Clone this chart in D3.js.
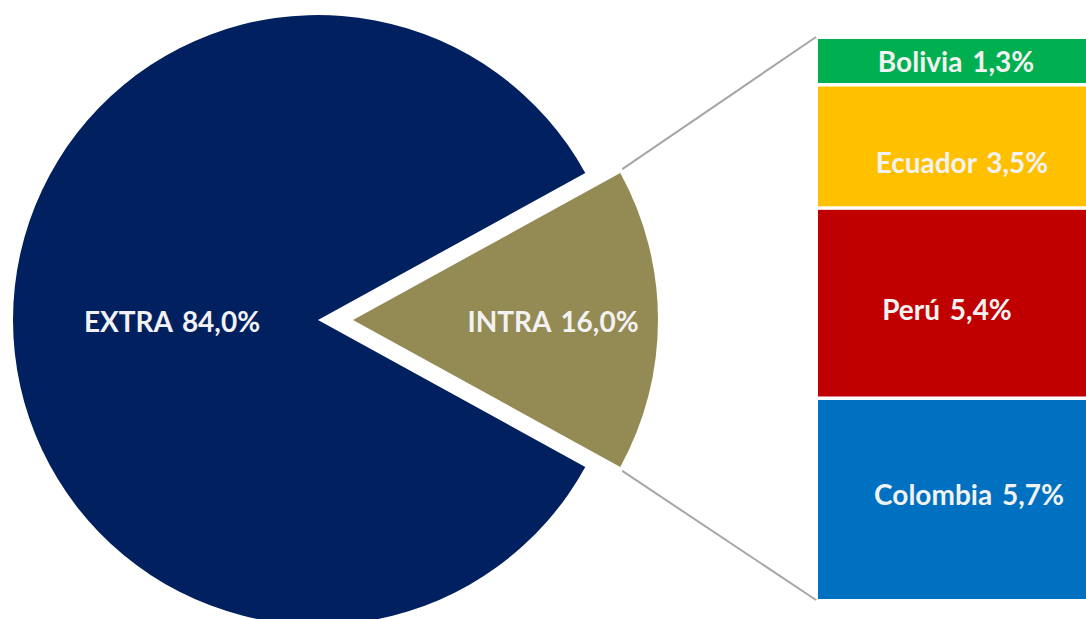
<!DOCTYPE html>
<html>
<head>
<meta charset="utf-8">
<script src="https://cdn.jsdelivr.net/npm/d3@7"></script>
<style>
  html, body { margin: 0; padding: 0; background: #fff; }
  text { font-family: Lato, "Open Sans", sans-serif; font-weight: bold; fill: #f2f2f2; word-spacing: 3px; }
</style>
</head>
<body>
<svg id="chart" width="1086" height="619"></svg>
<script>
// pie: intra vs extra
const pieNames = ['INTRA', 'EXTRA'];
const pieValues = [16.0, 84.0];
const pieColors = ['#948a54', '#002060'];

// breakdown of intra
const countries = ['Bolivia', 'Ecuador', 'Perú', 'Colombia'];
const countryValues = [1.3, 3.5, 5.4, 5.7];
const countryColors = ['#00b050', '#ffc000', '#c00000', '#0070c0'];

const fmt = (v) => d3.format('.1f')(v).replace('.', ',') + '%';

const svg = d3.select('#chart');
const radius = 305;
const cx = 318, cy = 320;
const explode = 35;
const fontSize = 28;

const pie = d3.pie()
    .sort(null)
    .startAngle(Math.PI / 2 - Math.PI * pieValues[0] / 100)
    .endAngle(Math.PI / 2 - Math.PI * pieValues[0] / 100 + 2 * Math.PI);

const arcs = pie(pieValues);
const arc = d3.arc().innerRadius(0).outerRadius(radius);

const centerOf = (d, i) => {
    if (i !== 0) return [cx, cy];
    const mid = (d.startAngle + d.endAngle) / 2;
    return [cx + explode * Math.sin(mid), cy - explode * Math.cos(mid)];
};

const slices = svg.append('g').selectAll('g')
    .data(arcs)
    .enter()
    .append('g')
    .attr('transform', (d, i) => `translate(${centerOf(d, i)})`);

slices.append('path')
    .attr('d', arc)
    .attr('fill', (d, i) => pieColors[i]);

slices.append('text')
    .attr('x', (d, i) => i === 0 ? 200 : -146)
    .attr('y', 5)
    .attr('text-anchor', 'middle')
    .attr('dominant-baseline', 'middle')
    .attr('font-size', fontSize)
    .text((d, i) => `${pieNames[i]} ${fmt(pieValues[i])}`);

// stacked bar
const barX = 818, barW = 290;
const total = d3.sum(countryValues);
const y = d3.scaleLinear().domain([0, total]).range([39, 599]);
const gap = 3.5;
// excel places the labels a bit off-centre
const labelNudge = [[-2, 1], [4, 17], [-11, 8], [11, -3]];

let acc = 0;
const stack = countryValues.map((v, i) => {
    const s = { name: countries[i], value: v, y0: acc, y1: acc + v, color: countryColors[i] };
    acc += v;
    return s;
});

const bars = svg.append('g').selectAll('g')
    .data(stack)
    .enter()
    .append('g');

bars.append('rect')
    .attr('x', barX)
    .attr('width', barW)
    .attr('y', (d, i) => y(d.y0) + (i === 0 ? 0 : gap / 2))
    .attr('height', (d, i) => y(d.y1) - y(d.y0) - (i === 0 ? gap / 2 : gap) + (i === stack.length - 1 ? gap / 2 : 0))
    .attr('fill', (d) => d.color);

bars.append('text')
    .attr('x', (d, i) => 958 + labelNudge[i][0])
    .attr('y', (d, i) => (y(d.y0) + y(d.y1)) / 2 + 2 + labelNudge[i][1])
    .attr('text-anchor', 'middle')
    .attr('dominant-baseline', 'middle')
    .attr('font-size', fontSize)
    .text((d) => `${d.name} ${fmt(d.value)}`);

// connector lines
const intra = arcs[0];
const ic = centerOf(intra, 0);
const corner = (a) => [ic[0] + radius * Math.sin(a), ic[1] - radius * Math.cos(a)];
const p1 = corner(intra.startAngle);
const p2 = corner(intra.endAngle);

svg.append('line')
    .attr('x1', p1[0] + 2).attr('y1', p1[1] - 4)
    .attr('x2', barX - 2).attr('y2', y(0) - 2)
    .attr('stroke', '#a6a6a6').attr('stroke-width', 2);

svg.append('line')
    .attr('x1', p2[0] + 2).attr('y1', p2[1] + 4)
    .attr('x2', barX - 2).attr('y2', y(total) + 1)
    .attr('stroke', '#a6a6a6').attr('stroke-width', 2);
</script>
</body>
</html>
